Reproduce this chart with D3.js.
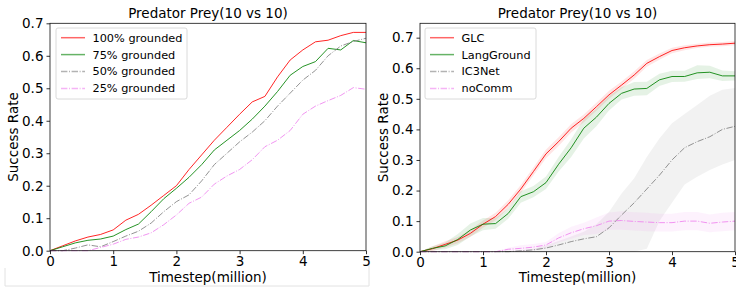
<!DOCTYPE html>
<html>
<head>
<meta charset="utf-8">
<script src="https://cdn.jsdelivr.net/npm/d3@7"></script>
<style>
  body { margin: 0; background: #fff; }
  svg { display: block; font-family: 'DejaVu Sans', sans-serif; }
</style>
</head>
<body>
<script>
// timesteps in millions, shared by every curve
const timesteps = [0, 0.2, 0.4, 0.6, 0.8, 1.0, 1.2, 1.4, 1.6, 1.8, 2.0, 2.2, 2.4, 2.6, 2.8, 3.0, 3.2, 3.4, 3.6, 3.8, 4.0, 4.2, 4.4, 4.6, 4.8, 5.0];

// left panel: grounding ratio
const grounded100 = [0, 0.015, 0.03, 0.042, 0.05, 0.064, 0.094, 0.112, 0.14, 0.17, 0.2, 0.25, 0.295, 0.34, 0.38, 0.42, 0.458, 0.475, 0.535, 0.587, 0.618, 0.643, 0.648, 0.662, 0.672, 0.672];
const grounded75 = [0, 0.012, 0.024, 0.032, 0.036, 0.045, 0.065, 0.082, 0.12, 0.16, 0.192, 0.226, 0.265, 0.31, 0.34, 0.37, 0.405, 0.445, 0.49, 0.54, 0.567, 0.582, 0.623, 0.618, 0.647, 0.64];
const grounded50 = [0, 0.0, 0.008, 0.018, 0.012, 0.028, 0.045, 0.06, 0.085, 0.12, 0.151, 0.172, 0.215, 0.265, 0.3, 0.335, 0.365, 0.4, 0.445, 0.485, 0.525, 0.555, 0.6, 0.63, 0.644, 0.654];
const grounded25 = [0, 0, 0, 0, 0.01, 0.02, 0.035, 0.042, 0.055, 0.08, 0.11, 0.146, 0.165, 0.205, 0.23, 0.25, 0.28, 0.32, 0.34, 0.37, 0.42, 0.445, 0.462, 0.478, 0.502, 0.497];

// right panel: methods, mean and shaded band
const glcMean = [0, 0.01, 0.024, 0.038, 0.06, 0.09, 0.115, 0.155, 0.205, 0.262, 0.32, 0.36, 0.404, 0.436, 0.474, 0.513, 0.545, 0.578, 0.616, 0.638, 0.658, 0.667, 0.673, 0.677, 0.679, 0.682];
const glcLow = [0, 0.002, 0.014, 0.028, 0.048, 0.078, 0.103, 0.142, 0.192, 0.249, 0.306, 0.346, 0.39, 0.423, 0.461, 0.5, 0.533, 0.566, 0.605, 0.628, 0.649, 0.659, 0.666, 0.67, 0.672, 0.675];
const glcHigh = [0, 0.018, 0.034, 0.048, 0.072, 0.102, 0.127, 0.168, 0.218, 0.275, 0.334, 0.374, 0.418, 0.449, 0.487, 0.526, 0.557, 0.59, 0.627, 0.648, 0.667, 0.675, 0.68, 0.684, 0.686, 0.689];
const langMean = [0, 0.011, 0.019, 0.04, 0.071, 0.09, 0.092, 0.125, 0.18, 0.196, 0.226, 0.286, 0.34, 0.404, 0.44, 0.485, 0.518, 0.532, 0.534, 0.562, 0.573, 0.573, 0.585, 0.587, 0.575, 0.575];
const langLow = [0, 0.004, 0.008, 0.022, 0.05, 0.07, 0.075, 0.108, 0.16, 0.178, 0.205, 0.262, 0.31, 0.37, 0.41, 0.462, 0.498, 0.51, 0.512, 0.542, 0.555, 0.556, 0.565, 0.567, 0.558, 0.56];
const langHigh = [0, 0.018, 0.03, 0.058, 0.092, 0.11, 0.11, 0.142, 0.198, 0.215, 0.246, 0.31, 0.368, 0.434, 0.468, 0.51, 0.538, 0.555, 0.556, 0.582, 0.592, 0.592, 0.61, 0.608, 0.593, 0.59];
const ic3Mean = [0, 0, 0, 0, 0, 0, 0, 0, 0.003, 0.006, 0.012, 0.022, 0.033, 0.042, 0.049, 0.078, 0.12, 0.16, 0.205, 0.25, 0.3, 0.34, 0.36, 0.376, 0.4, 0.41];
const ic3Low = [0, 0, 0, 0, 0, 0, 0, 0, 0, 0, 0, 0, 0, 0, 0, 0, 0, 0, 0.01, 0.1, 0.16, 0.22, 0.245, 0.267, 0.285, 0.3];
const ic3High = [0, 0, 0, 0, 0, 0, 0, 0, 0.005, 0.01, 0.02, 0.035, 0.05, 0.065, 0.09, 0.13, 0.19, 0.24, 0.31, 0.37, 0.42, 0.45, 0.48, 0.51, 0.53, 0.535];
const noCommMean = [0, 0, 0, 0, 0, 0, 0, 0.008, 0.011, 0.015, 0.022, 0.045, 0.062, 0.075, 0.085, 0.1, 0.102, 0.099, 0.097, 0.095, 0.095, 0.1, 0.1, 0.093, 0.097, 0.1];
const noCommLow = [0, 0, 0, 0, 0, 0, 0, 0.003, 0.001, 0.005, 0.012, 0.03, 0.042, 0.055, 0.058, 0.072, 0.072, 0.069, 0.067, 0.066, 0.066, 0.07, 0.07, 0.064, 0.067, 0.07];
const noCommHigh = [0, 0, 0, 0, 0, 0, 0, 0.013, 0.021, 0.025, 0.032, 0.06, 0.082, 0.095, 0.112, 0.128, 0.132, 0.129, 0.127, 0.124, 0.124, 0.13, 0.13, 0.122, 0.127, 0.13];

const xTicks = [0, 1, 2, 3, 4, 5];
const leftYTicks = [0, 0.1, 0.2, 0.3, 0.4, 0.5, 0.6, 0.7];
const rightYTicks = [0, 0.1, 0.2, 0.3, 0.4, 0.5, 0.6, 0.7];

const WIDTH = 736;
const HEIGHT = 287;
const DASH_DOT = '6.4,1.6,1,1.6';

const svg = d3.select('body')
  .append('svg')
  .attr('width', WIDTH)
  .attr('height', HEIGHT);

// faint frame edge left over from the source figure
svg.append('path')
  .attr('d', 'M5,268V286H369V258')
  .attr('fill', 'none')
  .attr('stroke', '#e2e2e2');

const panels = [
  {
    x0: 50, x1: 366, yTop: 23.3, yBottom: 250.7, yMax: 0.7, yTicks: leftYTicks,
    legend: { x: 56, y: 28, w: 131, h: 71 },
    series: [
      { label: '100% grounded', values: grounded100, color: 'red' },
      { label: '75% grounded', values: grounded75, color: 'green' },
      { label: '50% grounded', values: grounded50, color: 'gray', dash: DASH_DOT },
      { label: '25% grounded', values: grounded25, color: 'violet', dash: DASH_DOT }
    ]
  },
  {
    x0: 420, x1: 735, yTop: 23.3, yBottom: 251.7, yMax: 0.747, yTicks: rightYTicks,
    legend: { x: 425, y: 28, w: 111, h: 71 },
    series: [
      { label: 'GLC', values: glcMean, low: glcLow, high: glcHigh, color: 'red' },
      { label: 'LangGround', values: langMean, low: langLow, high: langHigh, color: 'green' },
      { label: 'IC3Net', values: ic3Mean, low: ic3Low, high: ic3High, color: 'gray', dash: DASH_DOT },
      { label: 'noComm', values: noCommMean, low: noCommLow, high: noCommHigh, color: 'violet', dash: DASH_DOT }
    ]
  }
];

panels.forEach(drawPanel);

function drawPanel(p) {
  const x = d3.scaleLinear().domain([0, 5]).range([p.x0, p.x1]);
  const y = d3.scaleLinear().domain([0, p.yMax]).range([p.yBottom, p.yTop]);
  const midX = (p.x0 + p.x1) / 2;

  const g = svg.append('g');

  // shaded bands first
  p.series.filter(s => s.low).forEach(s => {
    const area = d3.area()
      .x((d, i) => x(timesteps[i]))
      .y0((d, i) => y(s.low[i]))
      .y1((d, i) => y(s.high[i]));
    g.append('path')
      .attr('d', area(s.values))
      .attr('fill', s.color)
      .attr('fill-opacity', 0.1);
  });

  const line = d3.line()
    .x((d, i) => x(timesteps[i]))
    .y(d => y(d));

  p.series.forEach(s => {
    g.append('path')
      .attr('d', line(s.values))
      .attr('fill', 'none')
      .attr('stroke', s.color)
      .attr('stroke-opacity', 0.85)
      .attr('stroke-width', 1)
      .attr('stroke-dasharray', s.dash || null);
  });

  // axes
  const xAxis = g.append('g')
    .attr('transform', `translate(0,${ p.yBottom })`)
    .call(d3.axisBottom(x).tickValues(xTicks).tickFormat(d3.format('d')).tickSizeOuter(0).tickSize(3.5).tickPadding(2));
  const yAxis = g.append('g')
    .attr('transform', `translate(${ p.x0 },0)`)
    .call(d3.axisLeft(y).tickValues(p.yTicks).tickFormat(d3.format('.1f')).tickSizeOuter(0).tickSize(3.5).tickPadding(3));

  [xAxis, yAxis].forEach(a => {
    a.select('.domain').remove();
    a.selectAll('.tick line').attr('stroke', '#000').attr('stroke-width', 0.8);
    a.selectAll('.tick text')
      .attr('fill', '#000')
      .style('font-size', '13.5px')
      .style('font-family', "'DejaVu Sans', sans-serif");
  });

  // frame
  g.append('rect')
    .attr('x', p.x0)
    .attr('y', p.yTop)
    .attr('width', p.x1 - p.x0)
    .attr('height', p.yBottom - p.yTop)
    .attr('fill', 'none')
    .attr('stroke', '#111')
    .attr('stroke-width', 0.8);

  g.append('text')
    .attr('x', midX)
    .attr('y', 17.5)
    .attr('text-anchor', 'middle')
    .style('font-size', '13.5px')
    .text('Predator Prey(10 vs 10)');

  g.append('text')
    .attr('x', midX)
    .attr('y', 282)
    .attr('text-anchor', 'middle')
    .style('font-size', '13.5px')
    .text('Timestep(million)');

  g.append('text')
    .attr('transform', `translate(${ p.x0 - 32 },${ (p.yTop + p.yBottom) / 2 }) rotate(-90)`)
    .attr('text-anchor', 'middle')
    .style('font-size', '13.5px')
    .text('Success Rate');

  // legend
  const lg = g.append('g').attr('transform', `translate(${ p.legend.x },${ p.legend.y })`);
  lg.append('rect')
    .attr('width', p.legend.w)
    .attr('height', p.legend.h)
    .attr('rx', 2)
    .attr('fill', '#fff')
    .attr('fill-opacity', 0.8)
    .attr('stroke', '#d0d0d0')
    .attr('stroke-width', 0.8);

  p.series.forEach((s, i) => {
    const rowY = 9.7 + i * 16.9;
    lg.append('line')
      .attr('x1', 5).attr('x2', 29)
      .attr('y1', rowY).attr('y2', rowY)
      .attr('stroke', s.color)
      .attr('stroke-opacity', 0.6)
      .attr('stroke-width', 1.5)
      .attr('stroke-dasharray', s.dash || null);
    lg.append('text')
      .attr('x', 36.5)
      .attr('y', rowY)
      .attr('dy', '0.35em')
      .style('font-size', '11.3px')
      .text(s.label);
  });
}
</script>
</body>
</html>
